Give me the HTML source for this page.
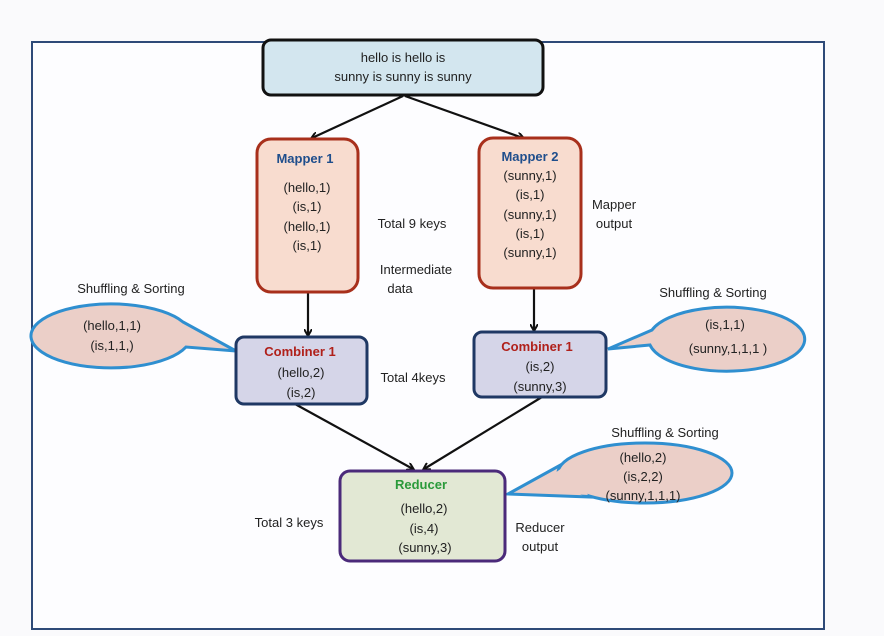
<!DOCTYPE html>
<html><head><meta charset="utf-8"><style>
html,body{margin:0;padding:0;background:#fbfbfd;}
svg{display:block;font-family:"Liberation Sans",sans-serif;}
text{font-size:13px;fill:#222;text-anchor:middle;}
.b{font-weight:bold;}
</style></head><body>
<svg width="884" height="636" viewBox="0 0 884 636">
<defs><marker id="a" markerWidth="8" markerHeight="8" refX="6" refY="4" orient="auto" markerUnits="userSpaceOnUse"><path d="M0,0 L7,4 L0,8" fill="none" stroke="#111" stroke-width="2"/></marker></defs>
<rect x="0" y="0" width="884" height="636" fill="#fafafc"/>
<rect x="32" y="42" width="792" height="587" fill="#fdfdff" stroke="#2e4a78" stroke-width="2"/>
<g stroke="#111" stroke-width="2.2" fill="none" marker-end="url(#a)">
<line x1="403" y1="96" x2="312" y2="138"/>
<line x1="405" y1="96" x2="523" y2="138"/>
<line x1="308" y1="292" x2="308" y2="335"/>
<line x1="534" y1="288" x2="534" y2="330"/>
<line x1="295" y1="404" x2="413" y2="469"/>
<line x1="542" y1="397" x2="424" y2="469"/>
</g>
<rect x="263" y="40" width="280" height="55" rx="8" fill="#d3e6ef" stroke="#111" stroke-width="3"/>
<text x="403" y="62">hello is hello is</text>
<text x="403" y="81">sunny is sunny is sunny</text>
<rect x="257" y="139" width="101" height="153" rx="14" fill="#f8dccf" stroke="#a8301c" stroke-width="3"/>
<text x="305" y="163" class="b" style="fill:#1f4e8c">Mapper 1</text>
<text x="307" y="192">(hello,1)</text><text x="307" y="211">(is,1)</text><text x="307" y="231">(hello,1)</text><text x="307" y="250">(is,1)</text>
<rect x="479" y="138" width="102" height="150" rx="14" fill="#f8dccf" stroke="#a8301c" stroke-width="3"/>
<text x="530" y="161" class="b" style="fill:#1f4e8c">Mapper 2</text>
<text x="530" y="180">(sunny,1)</text><text x="530" y="199">(is,1)</text><text x="530" y="219">(sunny,1)</text><text x="530" y="238">(is,1)</text><text x="530" y="257">(sunny,1)</text>
<text x="412" y="228">Total 9 keys</text>
<text x="416" y="274">Intermediate</text><text x="400" y="293">data</text>
<text x="614" y="209">Mapper</text><text x="614" y="228">output</text>
<text x="131" y="293">Shuffling &amp; Sorting</text>
<text x="713" y="297">Shuffling &amp; Sorting</text>
<text x="665" y="437">Shuffling &amp; Sorting</text>
<text x="413" y="382">Total 4keys</text>
<text x="289" y="527">Total 3 keys</text>
<text x="540" y="532">Reducer</text><text x="540" y="551">output</text>
<g fill="#ebcfc8" stroke="#2f8fd0" stroke-width="3">
<path d="M183,322 A80,32 0 1 0 186,347 L236,351 Z"/>
<path d="M652,330 A78,32 0 1 1 650,345 L608,349 Z"/>
<polygon points="508,494 566,462 590,497"/>
<ellipse cx="645" cy="473" rx="87" ry="30"/>
</g>
<polygon points="540,484 566,465 588,495 570,494" fill="#ebcfc8"/>
<text x="112" y="330">(hello,1,1)</text><text x="112" y="350">(is,1,1,)</text>
<text x="725" y="329">(is,1,1)</text><text x="728" y="353">(sunny,1,1,1 )</text>
<text x="643" y="462">(hello,2)</text><text x="643" y="481">(is,2,2)</text><text x="643" y="500">(sunny,1,1,1)</text>
<rect x="236" y="337" width="131" height="67" rx="8" fill="#d5d5e8" stroke="#1f3864" stroke-width="3"/>
<text x="300" y="356" class="b" style="fill:#b0201a">Combiner 1</text>
<text x="301" y="377">(hello,2)</text><text x="301" y="397">(is,2)</text>
<rect x="474" y="332" width="132" height="65" rx="8" fill="#d5d5e8" stroke="#1f3864" stroke-width="3"/>
<text x="537" y="351" class="b" style="fill:#b0201a">Combiner 1</text>
<text x="540" y="371">(is,2)</text><text x="540" y="391">(sunny,3)</text>
<rect x="340" y="471" width="165" height="90" rx="10" fill="#e2e8d4" stroke="#4b2a7a" stroke-width="3"/>
<text x="421" y="489" class="b" style="fill:#2a9a3a">Reducer</text>
<text x="424" y="513">(hello,2)</text><text x="424" y="533">(is,4)</text><text x="425" y="552">(sunny,3)</text>
</svg>
</body></html>
